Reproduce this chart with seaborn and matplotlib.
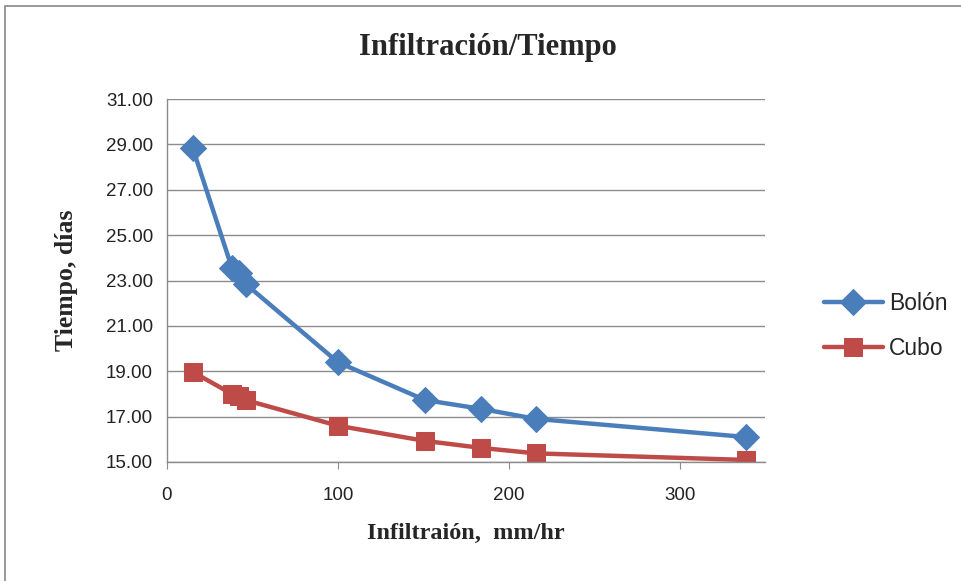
import numpy as np
import pandas as pd
import matplotlib
matplotlib.use("Agg")
import matplotlib.pyplot as plt
import seaborn as sns
from matplotlib.patches import Rectangle
from matplotlib.ticker import FormatStrFormatter

# data
infiltracion = [15, 38, 42, 46, 100, 151, 184, 216, 339]
tiempo_bolon = [28.85, 23.55, 23.33, 22.85, 19.40, 17.73, 17.34, 16.90, 16.10]
tiempo_cubo = [18.97, 18.00, 17.90, 17.73, 16.60, 15.93, 15.62, 15.38, 15.09]
series = ["Bolón", "Cubo"]
colores = {"Bolón": "#4A7EBB", "Cubo": "#BE4B48"}
marcadores = {"Bolón": "D", "Cubo": "s"}

df = pd.DataFrame({
    "x": infiltracion * 2,
    "y": tiempo_bolon + tiempo_cubo,
    "serie": [series[0]] * len(infiltracion) + [series[1]] * len(infiltracion),
})

sns.set_style("white")
plt.rcParams["font.family"] = ["Liberation Sans", "DejaVu Sans"]

fig = plt.figure(figsize=(9.61, 5.81), dpi=100)
ax = fig.add_axes([167 / 961, 1 - 462 / 581, (765 - 167) / 961, (462 - 99) / 581])

# outer chart border
fig.patches.append(Rectangle((5 / 961, -0.01), 1.0, 1 - 6 / 581 + 0.01, transform=fig.transFigure,
                             fill=False, edgecolor="#888888", linewidth=1.2))

for s in series:
    d = df[df.serie == s]
    sns.lineplot(data=d, x="x", y="y", ax=ax, color=colores[s], linewidth=3.2,
                 marker=marcadores[s], markersize=13 if s == "Bolón" else 13.5,
                 markeredgecolor=colores[s], label=s, sort=False)

ax.set_xlim(0, 350)
ax.set_ylim(15, 31)
ax.set_yticks(np.arange(15, 31.1, 2))
ax.set_xticks([0, 100, 200, 300])
ax.yaxis.set_major_formatter(FormatStrFormatter("%.2f"))
ax.grid(axis="y", color="#8c8c8c", linewidth=1)
ax.grid(axis="x", visible=False)
for sp in ["top", "right"]:
    ax.spines[sp].set_visible(False)
for sp in ["left", "bottom"]:
    ax.spines[sp].set_color("#8c8c8c")
    ax.spines[sp].set_linewidth(1)
ax.tick_params(axis="x", direction="out", length=5, color="#8c8c8c", labelsize=13.5, pad=13, bottom=True)
ax.tick_params(axis="y", length=0, labelsize=13.5, pad=10)
for lbl in ax.get_xticklabels() + ax.get_yticklabels():
    lbl.set_color("#222222")

serif = ["Liberation Serif", "DejaVu Serif"]
ax.set_xlabel("Infiltraión,  mm/hr", family=serif, fontweight="bold", fontsize=17.5, labelpad=14)
ax.set_ylabel("Tiempo, días", family=serif, fontweight="bold", fontsize=18.5, labelpad=20)
fig.text(488 / 961, 1 - 47 / 581, "Infiltración/Tiempo", family=serif, fontweight="bold",
         fontsize=22, ha="center", va="center")

leg = ax.legend(loc="center left", bbox_to_anchor=(803 / 961, 1 - 326 / 581),
                bbox_transform=fig.transFigure, frameon=False, fontsize=16.5,
                handlelength=2.6, labelspacing=1.0, handletextpad=0.25)

fig.savefig("out.png", dpi=100)
